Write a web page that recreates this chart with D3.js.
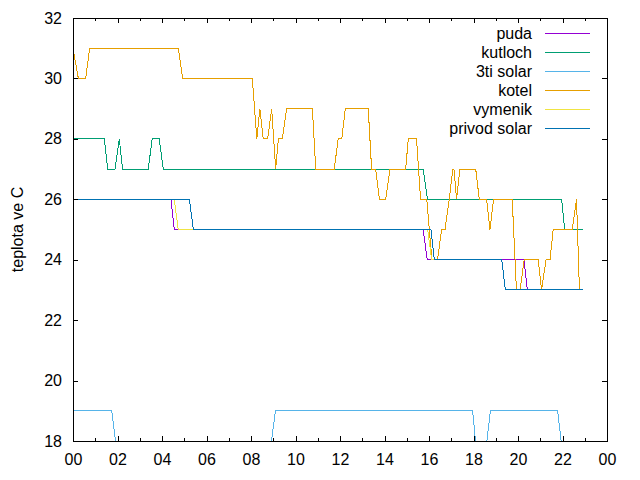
<!DOCTYPE html>
<html><head><meta charset="utf-8">
<script src="https://cdn.jsdelivr.net/npm/d3@7"></script>
<style>
body{margin:0;background:#fff}
svg{display:block;background:#fff}
text{font-family:"Liberation Sans",Arial,sans-serif;font-size:16px;fill:#000}
</style>
</head><body>
<svg id="chart" width="640" height="480"></svg>
<script>
// ---- data (hours of day, temperature in C) ----
const seriesNames = ["puda", "kutloch", "3ti solar", "kotel", "vymenik", "privod solar"];
const seriesColors = ["#9400d3", "#009e73", "#56b4e9", "#e69f00", "#f0e442", "#0072b2"];

const pudaTime = [0, 4.40, 4.55, 15.74, 15.92, 20.27, 20.42, 22.93];
const pudaTemp = [26, 26, 25, 25, 24, 24, 23, 23];

const kutlochTime = [0, 1.41, 1.56, 1.89, 2.08, 2.23, 3.38, 3.56, 3.87, 4.06, 15.74, 15.93, 21.96, 22.10, 22.93];
const kutlochTemp = [28, 28, 27, 27, 28, 27, 27, 28, 28, 27, 27, 26, 26, 25, 25];

const solarTime = [0, 1.74, 1.91, 8.92, 9.10, 17.96, 18.09, 18.60, 18.76, 21.78, 21.94, 22.93];
const solarTemp = [19, 19, 18, 18, 19, 19, 18, 18, 19, 19, 18, 18];

const kotelTime = [0, 0.24, 0.57, 0.75, 4.73, 4.93, 8.06, 8.26, 8.40, 8.55, 8.75, 8.93, 9.11, 9.23, 9.41, 9.60,
  10.76, 10.91, 11.74, 11.92, 12.08, 12.24, 13.27, 13.42, 13.60, 13.77, 14.05, 14.25, 14.95, 15.07, 15.44, 15.62,
  15.90, 16.13, 16.38, 16.57, 16.72, 16.91, 17.07, 17.12, 17.24, 17.39, 18.10, 18.26, 18.59, 18.74, 18.90, 19.74,
  19.93, 20.09, 20.28, 20.91, 21.06, 21.26, 21.44, 21.58, 22.44, 22.63, 22.76, 22.93];
const kotelTemp = [31, 30, 30, 31, 31, 30, 30, 28, 29, 28, 28, 29, 27, 28, 28, 29,
  29, 27, 27, 28, 28, 29, 29, 27, 27, 26, 26, 27, 27, 28, 28, 26,
  26, 24, 24, 25, 25, 26, 27, 27, 26, 27, 27, 26, 26, 25, 26, 26,
  23, 23, 24, 24, 23, 24, 24, 25, 25, 26, 23, 23];

const vymenikTime = [0, 4.55, 4.73, 15.94, 16.12, 19.27, 19.43, 22.93];
const vymenikTemp = [26, 26, 25, 25, 24, 24, 23, 23];

const privodTime = [0, 5.23, 5.41, 16.09, 16.24, 19.27, 19.43, 22.93];
const privodTemp = [26, 26, 25, 25, 24, 24, 23, 23];

const xTickValues = [0, 2, 4, 6, 8, 10, 12, 14, 16, 18, 20, 22, 24];
const xTickLabels = ["00", "02", "04", "06", "08", "10", "12", "14", "16", "18", "20", "22", "00"];
const xMinorTicks = [1, 3, 5, 7, 9, 11, 13, 15, 17, 19, 21, 23];
const yTickValues = [18, 20, 22, 24, 26, 28, 30, 32];
const yLabel = "teplota ve C";

// ---- build ----
const times = [pudaTime, kutlochTime, solarTime, kotelTime, vymenikTime, privodTime];
const temps = [pudaTemp, kutlochTemp, solarTemp, kotelTemp, vymenikTemp, privodTemp];
const series = seriesNames.map((name, i) => ({
  name, color: seriesColors[i],
  points: times[i].map((t, j) => ({t, v: temps[i][j]}))
}));

const m = {left: 73, right: 607, top: 18, bottom: 441};
const svg = d3.select("#chart");
const x = d3.scaleLinear().domain([0, 24]).range([m.left, m.right]);
const y = d3.scaleLinear().domain([18, 32]).range([m.bottom, m.top]);

svg.append("defs").append("clipPath").attr("id", "clip")
  .append("rect").attr("x", m.left).attr("y", m.top)
  .attr("width", m.right - m.left).attr("height", m.bottom - m.top);

const line = d3.line().x(d => x(d.t)).y(d => y(d.v));
const plot = svg.append("g").attr("clip-path", "url(#clip)");
series.forEach(s => {
  plot.append("path").datum(s.points)
    .attr("d", line).attr("fill", "none")
    .attr("stroke", s.color).attr("stroke-width", 1)
    .attr("shape-rendering", "crispEdges");
});

// axes (inward ticks, mirrored)
const axG = svg.append("g").attr("shape-rendering", "crispEdges");
const major = 5, minor = 3;
const bottomAxis = d3.axisBottom(x).tickValues(xTickValues).tickSize(-major).tickPadding(major + 8)
  .tickFormat((d, i) => xTickLabels[i]);
axG.append("g").attr("transform", `translate(0,${m.bottom})`).call(bottomAxis);
const topAxis = d3.axisTop(x).tickValues(xTickValues).tickSize(-major).tickFormat("");
axG.append("g").attr("transform", `translate(0,${m.top})`).call(topAxis);
const bottomMinor = d3.axisBottom(x).tickValues(xMinorTicks).tickSize(-minor).tickFormat("");
axG.append("g").attr("transform", `translate(0,${m.bottom})`).call(bottomMinor);
const topMinor = d3.axisTop(x).tickValues(xMinorTicks).tickSize(-minor).tickFormat("");
axG.append("g").attr("transform", `translate(0,${m.top})`).call(topMinor);
const leftAxis = d3.axisLeft(y).tickValues(yTickValues).tickSize(-major).tickPadding(major + 6)
  .tickFormat(d3.format("d"));
axG.append("g").attr("transform", `translate(${m.left},0)`).call(leftAxis);
const rightAxis = d3.axisRight(y).tickValues(yTickValues).tickSize(-major).tickFormat("");
axG.append("g").attr("transform", `translate(${m.right},0)`).call(rightAxis);

axG.selectAll(".domain").remove();
axG.selectAll(".tick line").attr("stroke", "#000");
axG.selectAll("text").attr("font-size", null).attr("font-family", null);
svg.append("rect").attr("x", m.left).attr("y", m.top)
  .attr("width", m.right - m.left).attr("height", m.bottom - m.top)
  .attr("fill", "none").attr("stroke", "#000").attr("shape-rendering", "crispEdges");

// y label
svg.append("text").attr("transform", `translate(23,${(m.top + m.bottom) / 2}) rotate(-90)`)
  .attr("text-anchor", "middle").text(yLabel);

// legend
const lg = svg.append("g");
series.forEach((s, i) => {
  const yy = 33 + i * 19;
  lg.append("text").attr("x", 532).attr("y", yy).attr("dy", "0.35em")
    .attr("text-anchor", "end").text(s.name);
  lg.append("line").attr("x1", 545).attr("x2", 590).attr("y1", yy).attr("y2", yy)
    .attr("stroke", s.color).attr("stroke-width", 1).attr("shape-rendering", "crispEdges");
});
</script>
</body></html>
